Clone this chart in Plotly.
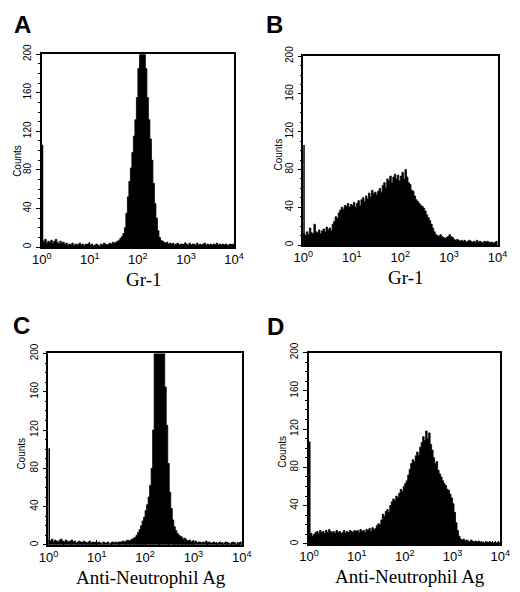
import plotly.graph_objects as go

# ---- data: 128 log channels over 10^0 .. 10^4 (32 per decade) ----
n_channels = 128
channels_per_decade = 32

counts_A = [
    7, 5, 8, 4, 6, 5, 7, 4, 6, 8, 5, 3, 6, 4, 5, 3,
    4, 2, 3, 2, 4, 1, 3, 2, 3, 4, 2, 3, 1, 3, 2, 4,
    2, 3, 1, 2, 3, 2, 1, 3, 2, 4, 3, 2, 3, 4, 3, 5,
    4, 5, 6, 7, 9, 11, 14, 20, 35, 52, 68, 82, 98, 115, 132, 155,
    185, 240, 280, 260, 215, 185, 155, 132, 112, 90, 66, 45, 30, 17, 10, 7,
    6, 5, 4, 5, 3, 4, 3, 4, 2, 3, 4, 2, 3, 3, 2, 4,
    3, 2, 4, 2, 3, 3, 2, 4, 2, 3, 2, 3, 4, 2, 3, 2,
    3, 2, 3, 2, 4, 2, 3, 2, 3, 2, 3, 2, 2, 3, 2, 3,
]
counts_B = [
    12, 10, 14, 11, 18, 13, 12, 22, 14, 13, 16, 12, 15, 17, 14, 19,
    16, 18, 15, 22, 25, 30, 28, 34, 37, 40, 38, 42, 41, 44, 40, 43,
    42, 45, 40, 44, 47, 42, 48, 50, 46, 52, 49, 55, 51, 58, 54, 56,
    53, 57, 60, 56, 63, 66, 61, 70, 68, 73, 66, 72, 75, 70, 74, 68,
    73, 77, 70, 80, 72, 66, 64, 58, 57, 52, 48, 46, 44, 42, 41, 39,
    36, 32, 29, 26, 22, 18, 14, 11, 10, 9, 11, 9, 8, 7, 8, 9,
    11, 9, 8, 6, 5, 6, 5, 4, 5, 4, 5, 3, 4, 5, 4, 3,
    4, 3, 5, 3, 4, 3, 2, 4, 3, 4, 2, 3, 3, 2, 3, 4,
]
counts_C = [
    5, 4, 6, 3, 5, 4, 3, 5, 6, 4, 3, 5, 4, 3, 4, 5,
    3, 4, 2, 3, 4, 3, 2, 4, 3, 2, 3, 4, 2, 3, 2, 3,
    2, 3, 2, 1, 3, 2, 2, 3, 1, 2, 3, 2, 3, 2, 3, 3,
    3, 4, 3, 4, 5, 4, 5, 6, 7, 8, 10, 13, 16, 20, 25, 29,
    36, 42, 50, 62, 80, 120, 210, 270, 290, 280, 260, 230, 205, 165, 125, 85,
    55, 38, 26, 19, 15, 12, 10, 9, 8, 6, 7, 5, 4, 5, 3, 4,
    3, 4, 2, 3, 3, 2, 3, 2, 4, 2, 3, 2, 2, 3, 2, 1,
    2, 3, 2, 1, 2, 3, 2, 2, 1, 2, 3, 2, 1, 2, 2, 3,
]
counts_D = [
    9, 11, 8, 10, 12, 13, 11, 14, 12, 13, 11, 14, 12, 15, 13, 12,
    13, 11, 14, 12, 13, 11, 12, 14, 11, 13, 12, 14, 13, 12, 14, 13,
    14, 12, 15, 13, 14, 12, 15, 14, 16, 13, 17, 15, 16, 19, 21, 20,
    25, 31, 29, 34, 36, 33, 40, 44, 47, 45, 50, 48, 53, 57, 55, 60,
    63, 66, 72, 78, 84, 88, 86, 92, 96, 93, 101, 106, 112, 108, 118, 110,
    116, 104, 98, 90, 84, 86, 77, 73, 70, 66, 63, 61, 57, 56, 52, 48,
    42, 33, 22, 14, 8, 5, 4, 5, 3, 4, 3, 2, 4, 3, 2, 3,
    2, 3, 2, 1, 2, 1, 2, 2, 1, 2, 1, 1, 2, 1, 2, 1,
]
# pile-up in the first channel (thin spike at 10^0)
first_channel = {"A": 106, "B": 106, "C": 101, "D": 107}

panel_labels = ["A", "B", "C", "D"]
x_titles = ["Gr-1", "Gr-1", "Anti-Neutrophil Ag", "Anti-Neutrophil Ag"]
y_title = "Counts"
y_ticks = [0, 40, 80, 120, 160, 200]
x_tick_vals = [1, 10, 100, 1000, 10000]
x_tick_text = ["10<sup>0</sup>", "10<sup>1</sup>", "10<sup>2</sup>", "10<sup>3</sup>", "10<sup>4</sup>"]
x_minor_vals = [m * 10 ** d for d in range(4) for m in range(2, 10)]

series = {"A": counts_A, "B": counts_B, "C": counts_C, "D": counts_D}

# channel edges on the log axis
edges = [10 ** (k / channels_per_decade) for k in range(n_channels + 1)]

W, H = 520, 592
# plot boxes in pixels: left, right, top, bottom
boxes = {
    "A": (33, 233, 45, 241.5),
    "B": (305, 507, 47, 239.5),
    "C": (40, 241, 350, 545),
    "D": (311, 510, 349, 544),
}
# panel-letter centres and "Counts" centres (pixels)
letter_pos = {"A": (13.5, 15), "B": (275, 15), "C": (12, 321), "D": (276, 323)}
counts_pos = {"A": (7, 154), "B": (279, 147), "C": (12.5, 452), "D": (284, 450)}

fig = go.Figure()
annotations = []
SANS = "Liberation Sans, Arial, sans-serif"
NARROW = "Liberation Sans Narrow, Arial Narrow, Liberation Sans, sans-serif"
SERIF = "Liberation Serif, Times New Roman, serif"

for i, lab in enumerate(panel_labels):
    l, r, t, b = boxes[lab]
    ax = "" if i == 0 else str(i + 1)
    xa, ya = "x" + ax, "y" + ax
    vals = series[lab]
    xs = [edges[0]]
    ys = [0]
    for k, v in enumerate(vals):
        xs += [edges[k], edges[k + 1]]
        ys += [v, v]
    xs.append(edges[-1])
    ys.append(0)
    fig.add_trace(go.Scatter(
        x=xs, y=ys, mode="lines", fill="toself",
        fillcolor="black", line=dict(color="black", width=0.8),
        xaxis=xa, yaxis=ya, showlegend=False, hoverinfo="skip",
    ))
    # first-channel spike
    fig.add_trace(go.Scatter(
        x=[edges[0], edges[0]], y=[0, first_channel[lab]], mode="lines",
        line=dict(color="black", width=3),
        xaxis=xa, yaxis=ya, showlegend=False, hoverinfo="skip",
        cliponaxis=False,
    ))
    xdom = [l / W, r / W]
    ydom = [1 - b / H, 1 - t / H]
    fig.layout["xaxis" + ax] = dict(
        domain=xdom, type="log", range=[0, 4], anchor=ya,
        showline=True, linecolor="black", linewidth=1.5, mirror=True,
        showgrid=False, zeroline=False,
        tickmode="array", tickvals=x_tick_vals, ticktext=x_tick_text,
        ticks="inside", ticklen=5, tickwidth=1.2, tickcolor="black",
        minor=dict(tickmode="array", tickvals=x_minor_vals, ticks="inside",
                   ticklen=3, tickwidth=1, tickcolor="black"),
        tickfont=dict(family=NARROW, size=13, color="black"),
    )
    fig.layout["yaxis" + ax] = dict(
        domain=ydom, range=[0, 200], anchor=xa,
        showline=True, linecolor="black", linewidth=1.5, mirror=True,
        showgrid=False, zeroline=False,
        tickmode="array", tickvals=y_ticks,
        ticks="outside", ticklen=4, tickwidth=1.2, tickcolor="black",
        minor=dict(dtick=10, ticks="outside", ticklen=2, tickwidth=1, tickcolor="black"),
        tickangle=-90, ticklabelstandoff=1,
        tickfont=dict(family=NARROW, size=10, color="black"),
    )
    # panel letter
    lx, ly = letter_pos[lab]
    annotations.append(dict(
        text="<b>%s</b>" % lab, xref="paper", yref="paper",
        x=lx / W, y=1 - ly / H,
        xanchor="center", yanchor="middle", showarrow=False,
        font=dict(family=SANS, size=24, color="black"),
    ))
    # y title
    cx, cy = counts_pos[lab]
    annotations.append(dict(
        text=y_title, xref="paper", yref="paper",
        x=cx / W, y=1 - cy / H,
        xanchor="center", yanchor="middle", textangle=-90, showarrow=False,
        font=dict(family=NARROW, size=10, color="black"),
    ))
    # x title
    annotations.append(dict(
        text=x_titles[i], xref="paper", yref="paper",
        x=((l + r) / 2 + 6) / W, y=1 - (b + 33) / H,
        xanchor="center", yanchor="middle", showarrow=False,
        font=dict(family=SERIF, size=19, color="black"),
    ))

fig.update_layout(
    width=W, height=H, margin=dict(l=0, r=0, t=0, b=0),
    paper_bgcolor="white", plot_bgcolor="white",
    annotations=annotations,
)
fig.write_html(
    "out.html",
    config={"displayModeBar": False},
    post_script="document.body.style.margin='0';document.body.style.overflow='hidden';",
)
